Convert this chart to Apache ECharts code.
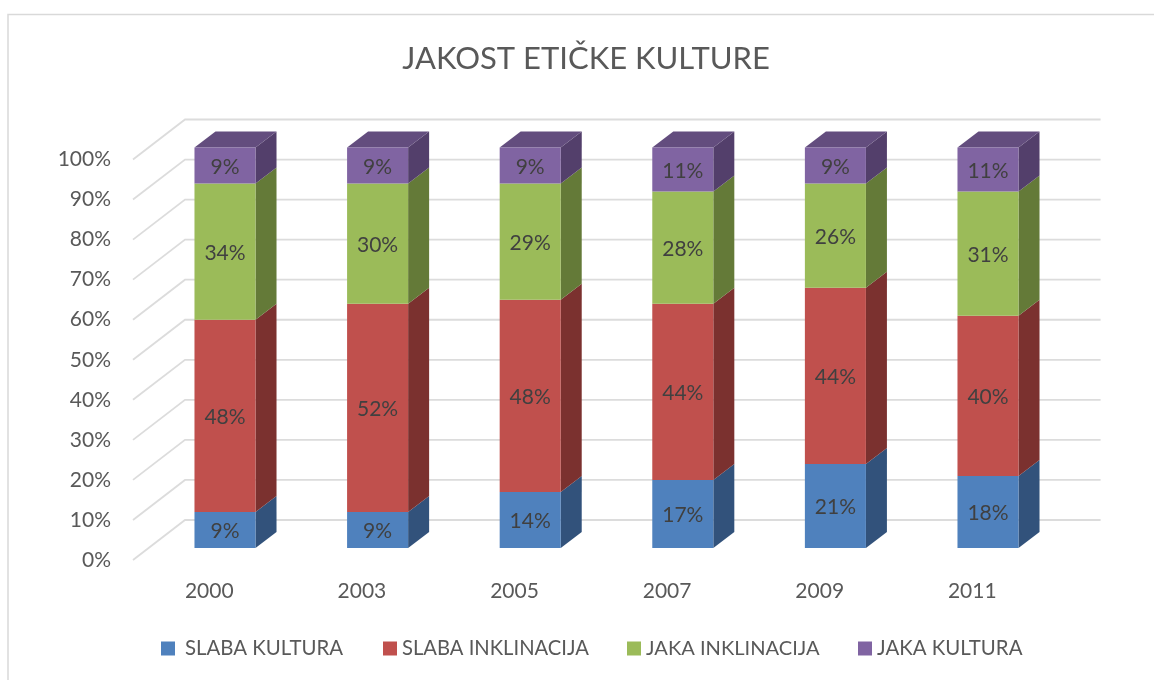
<!DOCTYPE html>
<html>
<head>
<meta charset="utf-8">
<style>html,body{margin:0;padding:0;background:#fff}#c{width:1154px;height:680px}</style>
<script src="https://cdn.jsdelivr.net/npm/echarts@6/dist/echarts.min.js"></script>
</head>
<body>
<div id="c"></div>
<script>
const titleText = 'JAKOST ETIČKE KULTURE';
const categories = ['2000', '2003', '2005', '2007', '2009', '2011'];
const slabaKultura = [9, 9, 14, 17, 21, 18];
const slabaInklinacija = [48, 52, 48, 44, 44, 40];
const jakaInklinacija = [34, 30, 29, 28, 26, 31];
const jakaKultura = [9, 9, 9, 11, 9, 11];
const gridTicks = [0, 10, 20, 30, 40, 50, 60, 70, 80, 90, 100];

const FONT = 'Lato, Carlito, sans-serif';
const FLOOR = { dx: 52, dy: -40 };   // full depth of the floor
const BAR_SHIFT = { dx: 15.7, dy: -12 }; // bar front inside the depth
const BAR_DEPTH = { dx: 21, dy: -16 };

const stacks = [
  { name: 'SLABA KULTURA', values: slabaKultura, front: '#4f81bd', side: '#32527b', top: '#3a5f8c', left: 161, pad: 5, size: 20.4 },
  { name: 'SLABA INKLINACIJA', values: slabaInklinacija, front: '#c0504d', side: '#7b312f', top: '#8f3c3a', left: 383, pad: 0, size: 20.2 },
  { name: 'JAKA INKLINACIJA', values: jakaInklinacija, front: '#9bbb59', side: '#647a38', top: '#748c42', left: 627, pad: 0, size: 20.1 },
  { name: 'JAKA KULTURA', values: jakaKultura, front: '#8064a2', side: '#533f6b', top: '#634d7e', left: 858, pad: 0, size: 20.4 }
];

function barSeries(s, si) {
  const data = categories.map((c, i) => {
    let start = 0;
    for (let k = 0; k < si; k++) start += stacks[k].values[i];
    return [i, start, start + s.values[i]];
  });
  return {
    type: 'custom', name: s.name, coordinateSystem: 'cartesian2d', clip: false, z: 3 + si,
    itemStyle: { color: s.front },
    encode: { x: 0, y: [1, 2] },
    data,
    renderItem(params, api) {
      const i = api.value(0);
      const p0 = api.coord([i, api.value(1)]);
      const p1 = api.coord([i, api.value(2)]);
      const w = api.size([1, 0])[0] * 0.4;
      const xl = p0[0] + BAR_SHIFT.dx - w / 2;
      const xr = xl + w;
      const yb = p0[1] + BAR_SHIFT.dy;
      const yt = p1[1] + BAR_SHIFT.dy;
      const dx = BAR_DEPTH.dx, dy = BAR_DEPTH.dy;
      const children = [
        { type: 'polygon', shape: { points: [[xr, yb], [xr + dx, yb + dy], [xr + dx, yt + dy], [xr, yt]] }, style: { fill: s.side } }
      ];
      if (si === stacks.length - 1) {
        children.push({ type: 'polygon', shape: { points: [[xl, yt], [xr, yt], [xr + dx, yt + dy], [xl + dx, yt + dy]] }, style: { fill: s.top } });
      }
      children.push({ type: 'rect', shape: { x: xl, y: yt, width: w, height: yb - yt }, style: { fill: s.front } });
      children.push({
        type: 'text', style: {
          x: (xl + xr) / 2, y: (yt + yb) / 2 + 1.5, text: (api.value(2) - api.value(1)) + '%',
          fill: '#404040', font: '21px ' + FONT, align: 'center', verticalAlign: 'middle'
        }
      });
      return { type: 'group', children };
    }
  };
}

const chart = echarts.init(document.getElementById('c'), null, { renderer: 'canvas' });
chart.setOption({
  animation: false,
  backgroundColor: '#fff',
  title: {
    text: titleText, left: 581, top: 38.5, textAlign: 'center',
    textStyle: { fontFamily: FONT, fontSize: 31, fontWeight: 'normal', color: '#595959' }
  },
  legend: stacks.map(s => ({
    data: [s.name], left: s.left, top: 638.5, padding: 0, itemWidth: 14, itemHeight: 14, icon: 'rect',
    selectedMode: false,
    textStyle: { fontFamily: FONT, fontSize: s.size, color: '#595959', padding: [0, 0, 0, s.pad] }
  })),
  grid: { left: 133, width: 915.6, top: 159.5, height: 400.5 },
  xAxis: {
    type: 'category', data: categories,
    axisLine: { show: false }, axisTick: { show: false }, splitLine: { show: false },
    axisLabel: { fontFamily: FONT, fontSize: 21, color: '#595959', margin: 21 }
  },
  yAxis: {
    type: 'value', min: 0, max: 100, interval: 10,
    axisLine: { show: false }, axisTick: { show: false }, splitLine: { show: false },
    axisLabel: { fontFamily: FONT, fontSize: 21, color: '#595959', margin: 22, padding: [8, 0, 0, 0], formatter: '{value}%' }
  },
  graphic: [
    { type: 'polyline', silent: true, shape: { points: [[8, 680], [8, 14.5], [1154, 14.5]] }, style: { stroke: '#d9d9d9', lineWidth: 1.5, fill: 'none' } }
  ],
  series: [
    {
      type: 'custom', name: 'grid', coordinateSystem: 'cartesian2d', clip: false, z: 1, silent: true,
      encode: { y: 0 }, data: gridTicks.map(v => [v]),
      renderItem(params, api) {
        const y = api.coord([0, api.value(0)])[1];
        const x0 = params.coordSys.x;
        const x1 = x0 + params.coordSys.width;
        return {
          type: 'polyline',
          shape: { points: [[x0, y], [x0 + FLOOR.dx, y + FLOOR.dy], [x1 + FLOOR.dx, y + FLOOR.dy]] },
          style: { stroke: '#dcdcdc', lineWidth: 1.8, fill: 'none' }
        };
      }
    }
  ].concat(stacks.map(barSeries))
});
</script>
</body>
</html>
